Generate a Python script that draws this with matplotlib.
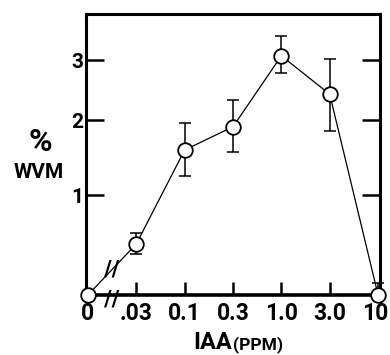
import numpy as np
import matplotlib
matplotlib.use("Agg")
import matplotlib.pyplot as plt
from matplotlib.transforms import ScaledTranslation

plt.rcParams['font.family'] = ['Roboto', 'DejaVu Sans']
plt.rcParams['font.weight'] = 'bold'

# ---- data ----
categories = ['0', '.03', '0.1', '0.3', '1.0', '3.0', '10']
wvm_mean = [0.0, 0.51, 1.60, 1.91, 3.07, 2.43, 0.0]
wvm_low = [0.0, 0.41, 1.26, 1.57, 2.78, 1.85, 0.0]
wvm_high = [0.0, 0.62, 1.96, 2.33, 3.40, 3.01, 0.12]
y_ticks = [1, 2, 3]

# hand-drawn (non-uniform) y axis calibration: value -> relative height
axis_vals = [-1, 0, 1, 2, 3, 5]
axis_h = [-100, 0, 100, 175, 235, 355]

def fwd(v):
    return np.interp(v, axis_vals, axis_h)

def inv(h):
    return np.interp(h, axis_h, axis_vals)

x = np.arange(len(categories))
mean = np.array(wvm_mean)
yerr = np.vstack([mean - np.array(wvm_low), np.array(wvm_high) - mean])

fig = plt.figure(figsize=(3.9, 3.55), dpi=100)
ax = fig.add_axes([86 / 390, 60 / 355, 294 / 390, 281 / 355])
ax.set_yscale('function', functions=(fwd, inv))

ax.errorbar(x, mean, yerr=yerr, fmt='none', ecolor='black', elinewidth=1.1,
            capsize=4, capthick=1.1, zorder=2, clip_on=False)
ax.plot(x, mean, color='black', lw=0.9, marker='o', markersize=10.5,
        markerfacecolor='white', markeredgecolor='black', markeredgewidth=1.3,
        zorder=3, clip_on=False)

# break marks on the first segment and on the x axis
xm = (x[0] + x[1]) / 2
ym = (mean[0] + mean[1]) / 2
ax.text(xm, ym, '//', ha='center', va='center', fontsize=15, weight='bold',
        zorder=4, family=['DejaVu Sans'])
ax.annotate('//', xy=(xm, 0), xytext=(0, -3), textcoords='offset points',
            ha='center', va='center', fontsize=15, weight='bold',
            annotation_clip=False, family=['DejaVu Sans'])

ax.set_xlim(-0.04, len(categories) - 1 + 0.04)
ax.set_ylim(0, 3.767)
ax.set_xticks(x)
ax.set_xticklabels(categories)
ax.set_yticks(y_ticks)
ax.set_yticklabels([str(t) for t in y_ticks])

for s in ax.spines.values():
    s.set_linewidth(2.2)
ax.spines['bottom'].set_linewidth(2.6)

ax.tick_params(axis='x', direction='in', length=9.5, width=1.8, labelsize=16.5, pad=5)
ax.tick_params(axis='y', direction='in', length=13, width=1.8, labelsize=15, pad=2,
               left=True, right=True)
ticks = ax.xaxis.get_major_ticks()
ticks[0].tick1line.set_visible(False)
ticks[-1].tick1line.set_visible(False)
last = ax.get_xticklabels()[-1]
last.set_transform(last.get_transform() + ScaledTranslation(-3 / 100, 0, fig.dpi_scale_trans))

fig.text(40 / 390, 1 - 142 / 355, '%', ha='center', va='center', fontsize=23, weight='bold')
fig.text(39 / 390, 1 - 172 / 355, 'WVM', ha='center', va='center', fontsize=15, weight='bold')
fig.text(193 / 390, 6 / 355, 'IAA', ha='left', va='baseline', fontsize=17, weight='bold')
fig.text(233 / 390, 6 / 355, '(PPM)', ha='left', va='baseline', fontsize=12.5, weight='bold')

fig.savefig('out.png', dpi=100)
